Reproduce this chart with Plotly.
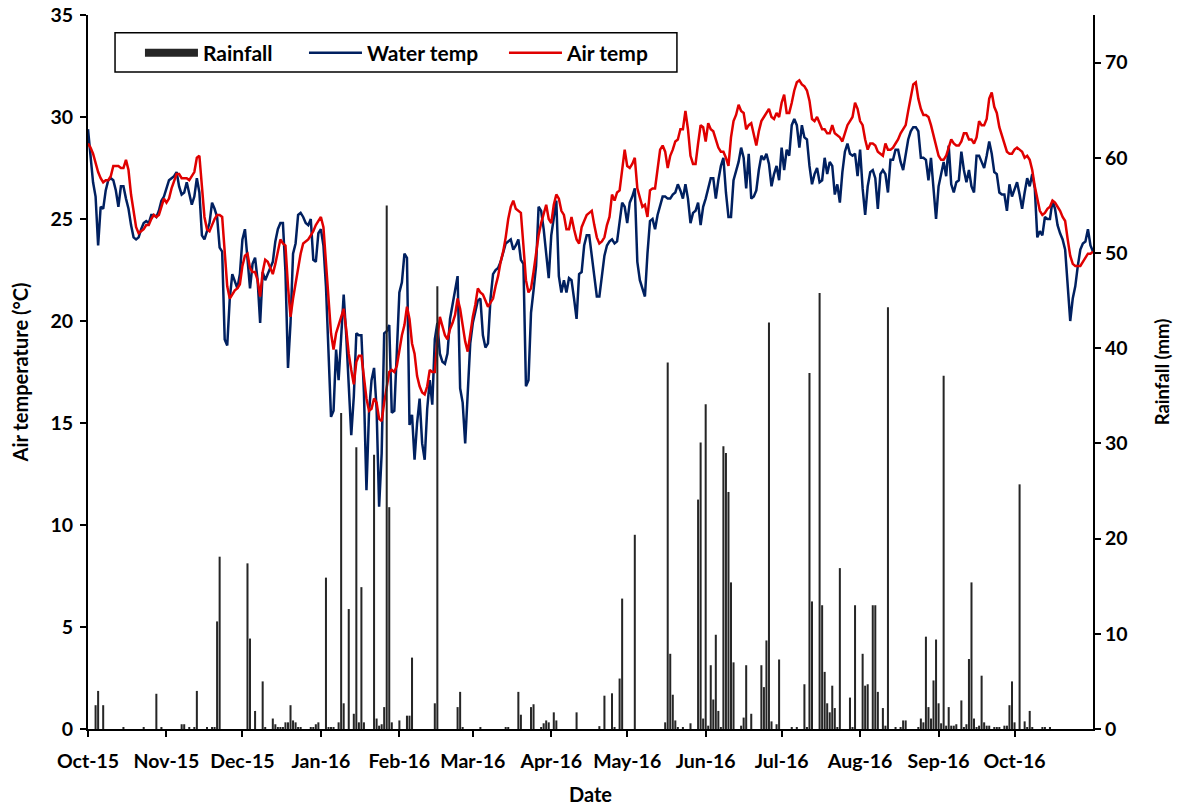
import pandas as pd
import plotly.graph_objects as go

start_date = "2015-10-01"

water_temp = [
    29.4, 28.2, 26.8, 26.1, 23.7, 25.6, 25.5, 26.4, 26.9, 27.0,
    26.9, 26.4, 25.6, 26.6, 26.6, 26.0, 25.5, 24.7, 24.1, 24.0,
    24.1, 24.5, 24.8, 24.9, 24.8, 25.2, 25.2, 25.1, 25.4, 25.9,
    26.1, 26.5, 26.9, 27.0, 27.1, 27.3, 26.6, 26.2, 26.3, 26.8,
    26.3, 25.7, 26.1, 27.0, 26.3, 24.2, 24.0, 24.4, 24.8, 25.8,
    25.5, 25.1, 23.6, 23.4, 19.1, 18.8, 21.1, 22.3, 21.9, 21.6,
    22.3, 24.0, 24.5, 23.2, 21.6, 22.8, 23.1, 22.0, 19.9,
    22.4, 22.0, 22.3, 22.6, 22.9, 23.9, 24.5, 24.8, 24.8, 22.4,
    17.7, 19.9, 23.3, 23.8, 25.2, 25.3, 25.1, 24.8, 24.7, 25.0,
    23.0, 22.9, 24.3, 24.5, 23.7, 21.7, 18.3, 15.3, 15.6, 18.6,
    17.1, 19.3, 21.3, 19.3, 16.5, 14.4, 16.3, 19.4, 19.3, 19.3,
    16.5, 11.7, 15.5, 17.1, 17.7, 15.7, 10.9, 13.5, 19.4, 19.5,
    19.8, 15.5, 15.6, 18.8, 21.4, 21.9, 23.3, 23.1, 14.9, 15.4,
    13.2, 15.0, 16.2, 14.0, 13.2, 15.7, 17.1, 15.9, 19.1, 19.9,
    18.4, 18.0, 17.9, 18.4, 20.1, 20.8, 21.6, 22.2, 16.7, 16.0,
    14.0, 16.5, 18.9, 19.9, 20.4, 21.0, 21.1, 19.3, 18.7, 18.9,
    21.1, 22.3, 22.5, 22.6, 22.9, 23.4, 23.8, 23.9, 24.0, 23.5,
    23.7, 24.0, 23.0, 22.8, 16.8, 17.1, 20.4, 21.5, 22.7, 25.6,
    25.4, 24.5, 23.2, 22.1, 24.2, 25.0, 25.9, 22.2, 21.4, 22.0,
    21.4, 22.1, 22.0, 21.1, 20.1, 22.3, 22.4, 23.7, 24.2, 24.2,
    23.3, 22.2, 21.2, 21.2, 22.2, 23.2, 23.7, 23.9, 24.0, 23.8,
    23.9, 24.8, 25.8, 25.6, 24.8, 25.8, 26.1, 26.5,
    22.9, 22.0, 21.6, 21.2, 23.3, 24.9, 25.0, 24.5, 25.2, 25.7, 26.1,
    26.1, 26.0, 26.0, 26.2, 26.3, 26.7, 26.4, 26.0, 26.7, 26.0,
    24.8, 25.3, 25.4, 25.8, 24.7, 25.6, 26.0, 26.5, 27.0, 27.0,
    26.0, 26.9, 27.6, 28.0, 26.3, 25.1, 25.1, 26.9, 27.3, 27.8,
    28.5, 28.0, 26.5, 28.2, 26.0, 26.1, 26.4, 27.4, 28.1, 27.9,
    28.2, 27.7, 26.6, 27.2, 27.6, 26.9, 28.5, 27.4, 28.4, 28.1,
    29.6, 29.9, 29.6, 28.5, 29.6, 29.0, 28.9, 27.6, 26.7, 27.2,
    27.5, 26.8, 26.9, 28.0, 27.2, 27.8, 27.6, 26.2, 26.7, 25.8,
    27.3, 28.3, 28.7, 28.2, 28.1, 28.2, 27.1, 28.4, 26.5, 25.2,
    26.6, 27.3, 27.4, 27.0, 25.5, 27.2, 27.4, 27.2, 26.3, 27.9,
    27.9, 28.4, 28.4, 27.8, 27.4, 28.1, 28.9, 29.3, 29.5, 29.5,
    29.3, 28.0, 28.0, 27.9, 26.9, 28.0, 26.6, 25.0, 26.6, 27.3,
    27.8, 27.1, 28.6, 26.7, 26.3, 26.8, 26.9, 28.3, 27.4, 26.8,
    27.4, 26.6, 26.3, 28.1, 28.1, 27.8, 27.5, 28.1, 28.8, 28.2,
    27.3, 27.2, 26.3, 26.2, 26.2, 25.4, 26.7, 26.1, 26.5, 26.8,
    26.2, 25.5, 26.3, 27.0, 26.6, 27.2,
    26.5, 24.1,
    24.4, 24.2, 25.1, 25.0, 25.0, 25.9, 25.5, 24.7, 24.3, 24.0, 23.5,
    21.5, 20.0, 21.1, 21.7, 22.7, 23.5, 23.8, 23.9, 24.5, 23.7, 23.4,
]

air_temp = [
    28.7, 28.5, 28.2, 27.7, 27.3, 27.0, 26.8, 26.9, 26.9, 27.1,
    27.6, 27.6, 27.6, 27.5, 27.5, 27.9, 27.4, 26.2, 25.3, 24.6,
    24.3, 24.4, 24.5, 24.7, 24.7, 25.0, 25.2, 25.1, 25.2, 25.6,
    26.0, 25.8, 26.0, 26.5, 26.9, 27.2, 27.2, 27.0, 27.0, 27.0,
    26.9, 27.1, 27.3, 28.0, 28.1, 26.6, 25.1, 24.5, 24.4, 24.7,
    25.0, 25.2, 25.2, 25.1, 23.2, 21.7, 21.1, 21.3, 21.5, 21.6,
    21.8, 22.7, 23.2, 23.3, 22.6, 22.4, 22.4, 22.0, 21.2,
    22.4, 23.0, 22.9, 22.6, 22.3, 22.8, 23.4, 24.0, 23.8, 23.7,
    21.7, 20.2, 21.1, 21.9, 22.7, 23.3, 23.8, 23.9, 24.0, 24.2,
    24.4, 24.7, 24.9, 25.1, 24.6, 23.0, 21.1, 19.4, 18.6, 19.4,
    19.8, 20.2, 20.6, 19.6, 18.4, 17.6, 16.9, 18.0, 18.3, 18.3,
    17.3, 16.2, 15.6, 15.7, 16.2, 16.0, 15.2, 15.1, 16.0, 16.8,
    17.5, 17.6, 17.5, 17.8, 18.6, 19.3, 19.8, 20.7, 20.1, 18.9,
    18.4, 17.3, 16.8, 16.5, 16.4, 16.8, 17.6, 17.5, 17.5, 19.1,
    20.2, 19.8, 19.3, 19.1, 19.6, 19.9, 20.3, 21.1, 20.6, 19.8,
    19.0, 18.5, 19.4, 20.2, 20.8, 21.6, 21.4, 21.3, 21.0, 20.7,
    20.9, 21.1, 21.7, 22.2, 22.9, 23.4, 24.1, 25.0, 25.6, 25.9,
    25.5, 25.4, 25.3, 23.7, 22.0, 21.4, 21.6, 22.4, 23.4, 24.2,
    24.8, 25.3, 25.7, 25.0, 24.8, 25.7, 26.2, 26.0, 25.4, 25.2,
    24.5, 24.5, 25.1, 24.5, 24.0, 23.8, 24.6, 24.9, 25.2, 25.3,
    25.4, 24.7, 24.1, 23.8, 23.9, 24.1, 24.7, 25.1, 26.2, 25.9,
    26.3, 26.4, 27.4, 28.4, 27.6, 27.5, 27.7, 28.0,
    26.5, 26.1, 25.6, 25.7, 25.1, 26.4, 26.5, 26.5, 27.4, 28.4, 28.6,
    28.3, 27.5, 28.1, 28.4, 28.8, 28.9, 29.4, 29.4, 30.3, 29.4,
    28.1, 27.7, 27.7, 28.7, 29.6, 29.5, 28.8, 29.7, 29.4, 29.3,
    28.9, 28.5, 28.3, 28.3, 28.0, 27.6, 29.0, 29.8, 30.1, 30.6,
    30.3, 30.2, 29.4, 29.6, 29.7, 29.2, 28.6, 29.3, 29.8, 30.0,
    30.2, 30.4, 30.0, 29.9, 30.2, 30.0, 30.7, 31.1, 30.2, 30.2,
    30.7, 31.3, 31.7, 31.8, 31.6, 31.5, 31.3, 30.8, 29.9, 29.8,
    30.0, 29.7, 29.4, 29.4, 29.2, 29.2, 29.6, 29.2, 29.1, 29.0,
    28.8, 29.2, 29.6, 29.8, 30.0, 30.7, 30.4, 29.8, 29.6, 28.9,
    28.4, 28.7, 28.7, 28.6, 28.3, 28.2, 28.1, 28.7, 28.4, 28.4,
    28.5, 28.7, 28.9, 29.2, 29.4, 29.6, 30.3, 31.0, 31.6, 31.7,
    30.9, 30.4, 30.1, 30.1, 30.0, 29.6, 29.1, 28.5, 28.1, 27.9,
    27.9, 28.1, 28.5, 28.9, 28.7, 28.6, 28.6, 28.8, 29.2, 29.2,
    28.9, 28.9, 28.7, 29.0, 29.8, 29.6, 29.6, 29.9, 30.9, 31.2,
    30.5, 30.2, 29.5, 29.1, 28.7, 28.3, 28.2, 28.2, 28.4, 28.5,
    28.4, 28.3, 28.0, 28.1, 27.9, 27.4,
    26.6, 26.0,
    25.4, 25.2, 25.3, 25.5, 25.6, 25.9, 25.8, 25.6, 25.4, 25.1, 24.9,
    24.0, 23.2, 22.8, 22.7, 22.7, 22.7, 22.9, 23.1, 23.3, 23.3, 23.4,
]

# Rainfall: day number after 1 Oct 2015, and amount (mm)
rain_day = [
    3, 4, 6, 14, 22, 27, 29, 37, 38, 40, 42, 43, 47, 49, 50, 51, 52,
    63, 64, 66, 69, 70, 73, 74, 75, 76, 77, 78, 79, 80, 81, 82, 83, 84,
    88, 89, 90, 91, 94, 95, 96, 97, 99, 100, 101, 103, 105, 106, 107, 108,
    109, 113, 114, 115, 116, 117, 118, 119, 120, 123, 126, 127, 128,
    137, 138, 146, 147, 148, 155, 165, 166, 170, 171, 175, 176, 179, 180,
    181, 182, 184, 185, 193, 202, 204, 207, 208, 210, 211, 216,
    228, 229, 230, 231, 232, 233, 235, 238, 241, 242, 243, 244, 245, 246,
    247, 248, 249, 250, 251, 252, 253, 254, 255, 258, 259, 260, 262,
    266, 267, 268, 269, 270, 272, 273, 278, 280, 283, 284, 285, 286,
    289, 290, 291, 292, 293, 294, 295, 296, 297, 301, 302, 303, 306, 307,
    308, 310, 311, 312, 314, 315, 316, 319, 321, 322, 323,
    328, 329, 330, 331, 332, 333, 334, 335, 336, 337, 338, 339, 340, 341,
    342, 343, 345, 346, 347, 348, 349, 350, 351, 352, 353, 354, 355, 356,
    358, 359, 360, 362, 363, 364, 365, 366, 368, 370, 371, 372, 373,
    377, 378, 380,
]
rain_mm = [
    2.5, 4.0, 2.5, 0.2, 0.2, 3.7, 0.2, 0.5, 0.5, 0.2, 0.2, 4.0, 0.2, 0.2, 0.2, 11.3, 18.1,
    17.4, 9.5, 1.9, 5.0, 0.2, 1.1, 0.5, 0.2, 0.2, 0.2, 0.7, 0.7, 2.5, 0.9, 0.7, 0.2, 0.2,
    0.2, 0.2, 0.5, 0.7, 15.9, 0.2, 0.2, 0.2, 0.7, 33.2, 2.7, 12.6, 1.6, 29.6, 0.7, 14.9,
    0.7, 28.8, 1.1, 0.35, 0.5, 2.3, 55.0, 23.3, 0.7, 0.9, 1.4, 1.4, 7.5,
    2.7, 46.5, 2.3, 3.9, 0.15, 0.15, 0.2, 0.2, 3.9, 1.5, 2.3, 2.6, 0.2, 0.6,
    0.9, 0.7, 1.75, 0.9, 1.75, 0.3, 3.5, 3.75, 0.15, 5.3, 13.7, 20.4,
    0.7, 38.5, 7.9, 3.6, 0.9, 0.15, 0.15, 0.6, 24.1, 30.1, 1.1, 34.1, 0.35, 6.7,
    3.1, 9.9, 1.9, 0.15, 29.7, 29.0, 24.9, 15.4, 7.0, 0.35, 1.2, 6.7, 1.6,
    6.7, 4.4, 9.3, 42.7, 0.8, 0.5, 7.3, 0.15, 0.15, 4.7, 0.15, 37.4, 13.4,
    45.8, 13.0, 6.0, 2.7, 1.75, 4.55, 2.2, 0.15, 16.9, 3.3, 0.15, 13.0, 7.9, 4.55,
    4.7, 13.0, 13.0, 3.9, 2.2, 0.35, 44.3, 0.15, 0.15, 0.9, 0.9,
    0.15, 1.1, 0.7, 9.7, 2.3, 1.1, 5.1, 9.4, 2.7, 0.6, 37.1, 0.35, 2.3, 0.35,
    0.35, 0.5, 3.0, 0.15, 0.5, 7.35, 15.4, 1.1, 0.15, 0.35, 5.6, 0.7, 0.35, 0.35,
    0.15, 0.15, 0.15, 0.35, 0.35, 2.5, 5.0, 0.7, 25.7, 0.8, 0.15, 1.9, 0.15,
    0.15, 0.15, 0.15,
]

month_ticks = [
    "2015-10-01", "2015-11-01", "2015-12-01", "2016-01-01", "2016-02-01",
    "2016-03-01", "2016-04-01", "2016-05-01", "2016-06-01", "2016-07-01",
    "2016-08-01", "2016-09-01", "2016-10-01",
]
temp_ticks = [0, 5, 10, 15, 20, 25, 30, 35]
rain_ticks = [0, 10, 20, 30, 40, 50, 60, 70]

dates = pd.date_range(start_date, periods=len(water_temp), freq="D")
rain_dates = pd.Timestamp(start_date) + pd.to_timedelta(rain_day, unit="D")

FONT = "Lato"
BAR_COLOR = "#262626"
fig = go.Figure()
fig.add_trace(go.Bar(
    x=rain_dates, y=rain_mm, name="Rainfall", yaxis="y2", showlegend=False,
    legendgroup="rain",
    marker=dict(color=BAR_COLOR, line=dict(width=0)),
    width=0.8 * 86400000,
))
# legend-only entry drawn as a thick bar swatch like the original key
fig.add_trace(go.Scatter(
    x=[None], y=[None], name="Rainfall", mode="lines", legendgroup="rain",
    line=dict(color=BAR_COLOR, width=8), legend="legend",
))
fig.add_trace(go.Scatter(
    x=dates, y=water_temp, name="Water temp", mode="lines",
    line=dict(color="#002060", width=2.5), legend="legend2",
))
fig.add_trace(go.Scatter(
    x=dates, y=air_temp, name="Air temp", mode="lines",
    line=dict(color="#E00000", width=2.5), legend="legend3",
))

axis_font = dict(family=FONT, size=19.5, color="black", weight="bold")
leg_font = dict(family=FONT, size=21, color="black", weight="bold")


def leg(xpos):
    return dict(
        orientation="h", x=xpos, y=0.9468, xanchor="left", yanchor="middle",
        bgcolor="rgba(0,0,0,0)", borderwidth=0, font=leg_font, itemwidth=53,
    )


fig.update_layout(
    width=1183, height=807,
    margin=dict(l=88, r=90, t=15, b=78, autoexpand=False),
    paper_bgcolor="white", plot_bgcolor="white",
    showlegend=True,
    legend=leg(0.0517),
    legend2=leg(0.2149),
    legend3=leg(0.4139),
    shapes=[dict(
        type="rect", xref="paper", yref="paper",
        x0=0.0269, x1=0.586, y0=0.920, y1=0.975,
        line=dict(color="black", width=1.5), fillcolor="white", layer="below",
    )],
    xaxis=dict(
        type="date", range=[dates[0], dates[-1]], automargin=False,
        tickvals=month_ticks, tickformat="%b-%y",
        ticks="outside", ticklen=6, tickwidth=1.5, tickcolor="black",
        showline=True, linecolor="black", linewidth=2,
        showgrid=False, zeroline=False,
        tickfont=axis_font, ticklabelstandoff=8,
        title=dict(text="Date", font=dict(family=FONT, size=20, color="black", weight="bold"), standoff=17),
    ),
    yaxis=dict(
        range=[0, 35], tickvals=temp_ticks, automargin=False,
        ticks="outside", ticklen=6, tickwidth=1.5, tickcolor="black",
        showline=True, linecolor="black", linewidth=2,
        showgrid=False, zeroline=False,
        tickfont=axis_font, ticklabelstandoff=3,
        title=dict(text="Air temperature (°C)", font=dict(family=FONT, size=20, color="black", weight="bold"), standoff=16),
    ),
    yaxis2=dict(
        range=[0, 75], tickvals=rain_ticks, overlaying="y", side="right", automargin=False,
        ticks="outside", ticklen=6, tickwidth=1.5, tickcolor="black",
        showline=True, linecolor="black", linewidth=2,
        showgrid=False, zeroline=False,
        tickfont=axis_font,
        title=dict(text="Rainfall (mm)", font=dict(family=FONT, size=18.5, color="black", weight="bold"), standoff=30),
    ),
)

fig.write_html("out.html")
